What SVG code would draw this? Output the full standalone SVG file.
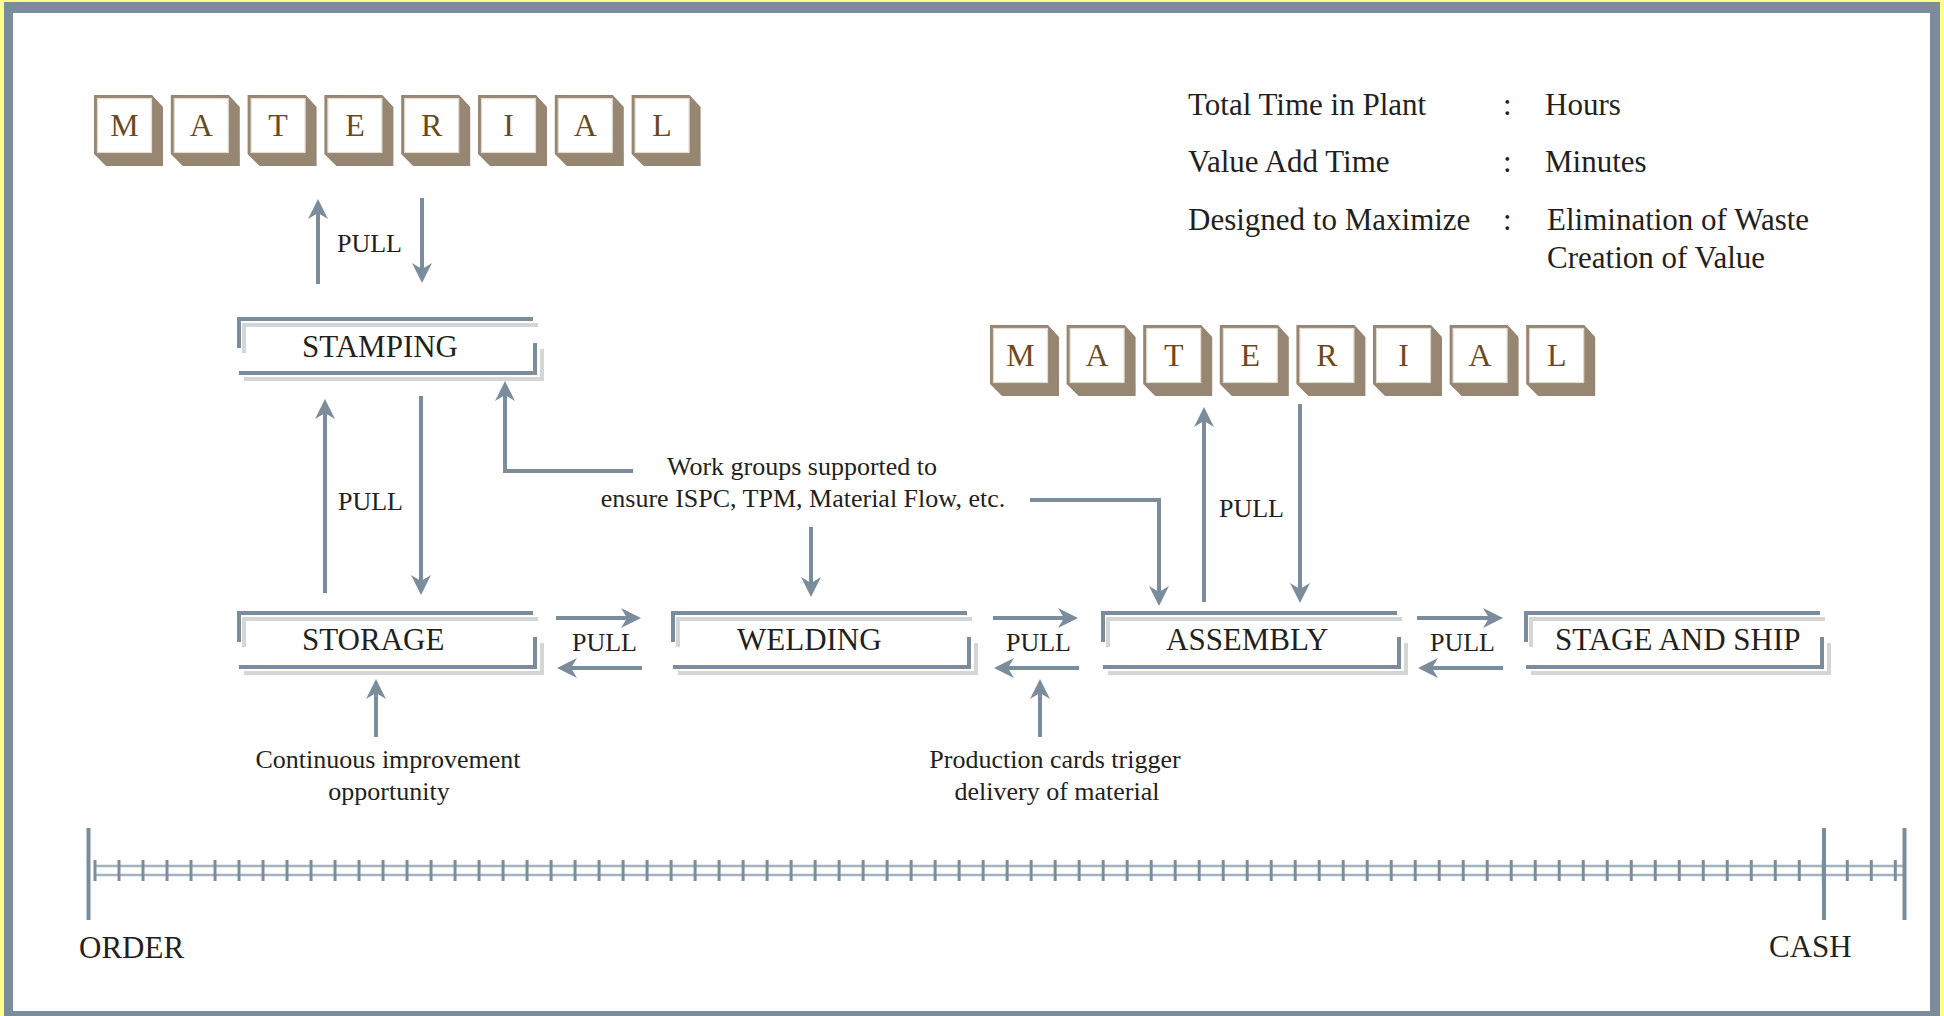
<svg xmlns="http://www.w3.org/2000/svg" width="1944" height="1016" viewBox="0 0 1944 1016">
<style>
.t{font-family:"Liberation Serif","Times New Roman",serif;fill:#231f20}
.big{font-size:31px}
.sm{font-size:26px}
.let{font-family:"Liberation Serif","Times New Roman",serif;font-size:32px;fill:#6b4a1f;text-anchor:middle}
.blk{fill:#968672}
.face{fill:#fff;stroke:#e2dbd1;stroke-width:1.2}
.dk{fill:none;stroke:#7b8d9c;stroke-width:4}
.lt{fill:none;stroke:#d4d5d7;stroke-width:4}
.c{fill:none;stroke:#7b8d9c;stroke-width:4}
.ah{marker-end:url(#arr)}
</style>
<defs>
<marker id="arr" markerUnits="userSpaceOnUse" markerWidth="30" markerHeight="30" refX="8" refY="0" orient="auto" overflow="visible">
<path d="M20,0 L0,-10 L6,0 L0,10 Z" fill="#7b8d9c"/>
</marker>
<g id="block">
<polygon class="blk" points="0,0 58,0 69,12 69,71 12,71 0,59"/>
<rect class="face" x="3.5" y="3.5" width="54" height="54"/>
</g>
<g id="box">
<path class="lt" d="M5,34 V6 H299 M5,60 H303 V30"/>
<path class="dk" d="M0,29 V0 H294 M0,54 H296 V24"/>
</g>
</defs>

<rect width="1944" height="1016" fill="#ffff8a"/>
<rect x="4" y="2" width="1936" height="1014" fill="#7b8d9c"/>
<rect x="13" y="13" width="1917" height="998" fill="#fff"/>

<g id="material-top">
<use href="#block" x="94" y="95"/><text class="let" x="124.5" y="136">M</text>
<use href="#block" x="170.8" y="95"/><text class="let" x="201.3" y="136">A</text>
<use href="#block" x="247.6" y="95"/><text class="let" x="278.1" y="136">T</text>
<use href="#block" x="324.4" y="95"/><text class="let" x="354.9" y="136">E</text>
<use href="#block" x="401.2" y="95"/><text class="let" x="431.7" y="136">R</text>
<use href="#block" x="478" y="95"/><text class="let" x="508.5" y="136">I</text>
<use href="#block" x="554.8" y="95"/><text class="let" x="585.3" y="136">A</text>
<use href="#block" x="631.6" y="95"/><text class="let" x="662.1" y="136">L</text>
</g>

<g id="material-right">
<use href="#block" x="990" y="325"/><text class="let" x="1020.5" y="366">M</text>
<use href="#block" x="1066.6" y="325"/><text class="let" x="1097.1" y="366">A</text>
<use href="#block" x="1143.2" y="325"/><text class="let" x="1173.7" y="366">T</text>
<use href="#block" x="1219.8" y="325"/><text class="let" x="1250.3" y="366">E</text>
<use href="#block" x="1296.4" y="325"/><text class="let" x="1326.9" y="366">R</text>
<use href="#block" x="1373" y="325"/><text class="let" x="1403.5" y="366">I</text>
<use href="#block" x="1449.6" y="325"/><text class="let" x="1480.1" y="366">A</text>
<use href="#block" x="1526.2" y="325"/><text class="let" x="1556.7" y="366">L</text>
</g>

<g id="stamping"><use href="#box" x="239" y="319"/><text class="t big" x="302" y="357">STAMPING</text></g>
<g id="storage"><use href="#box" x="239" y="613"/><text class="t big" x="302" y="650">STORAGE</text></g>
<g id="welding"><use href="#box" x="673" y="613"/><text class="t big" x="737" y="650">WELDING</text></g>
<g id="assembly"><use href="#box" x="1103" y="613"/><text class="t big" x="1166" y="650">ASSEMBLY</text></g>
<g id="stage-and-ship"><use href="#box" x="1526" y="613"/><text class="t big" x="1555" y="650">STAGE AND SHIP</text></g>

<g id="info">
<text class="t big" x="1188" y="115">Total Time in Plant</text>
<text class="t big" x="1503" y="115">:</text>
<text class="t big" x="1545" y="115">Hours</text>
<text class="t big" x="1188" y="172">Value Add Time</text>
<text class="t big" x="1503" y="172">:</text>
<text class="t big" x="1545" y="172">Minutes</text>
<text class="t big" x="1188" y="230">Designed to Maximize</text>
<text class="t big" x="1503" y="230">:</text>
<text class="t big" x="1547" y="230">Elimination of Waste</text>
<text class="t big" x="1547" y="268">Creation of Value</text>
</g>

<g id="notes">
<text class="t sm" x="802" y="475" text-anchor="middle">Work groups supported to</text>
<text class="t sm" x="803" y="507" text-anchor="middle">ensure ISPC, TPM, Material Flow, etc.</text>
<text class="t sm" x="388" y="768" text-anchor="middle">Continuous improvement</text>
<text class="t sm" x="389" y="800" text-anchor="middle">opportunity</text>
<text class="t sm" x="1055" y="768" text-anchor="middle">Production cards trigger</text>
<text class="t sm" x="1057" y="800" text-anchor="middle">delivery of material</text>
</g>

<g id="connectors">
<path class="c ah" d="M318,284 V211"/>
<path class="c ah" d="M422,198 V271"/>
<text class="t sm" x="337" y="252">PULL</text>
<path class="c ah" d="M325,593 V411"/>
<path class="c ah" d="M421,396 V583"/>
<text class="t sm" x="338" y="510">PULL</text>
<path class="c ah" d="M1204,602 V419"/>
<path class="c ah" d="M1300,404 V591"/>
<text class="t sm" x="1219" y="517">PULL</text>
<path class="c ah" d="M556,618 H629"/>
<path class="c ah" d="M642,668 H569"/>
<text class="t sm" x="572" y="651">PULL</text>
<path class="c ah" d="M993,618 H1066"/>
<path class="c ah" d="M1079,668 H1006"/>
<text class="t sm" x="1006" y="651">PULL</text>
<path class="c ah" d="M1417,618 H1491"/>
<path class="c ah" d="M1503,668 H1430"/>
<text class="t sm" x="1430" y="651">PULL</text>
<path class="c ah" d="M376,737 V691"/>
<path class="c ah" d="M1040,737 V691"/>
<path class="c ah" d="M811,527 V585"/>
<path class="c ah" d="M633,471 H505 V393"/>
<path class="c ah" d="M1030,500 H1159 V594"/>
</g>

<g id="timeline">
<line x1="95" y1="866" x2="1904" y2="866" stroke="#a3b2bf" stroke-width="2.5"/>
<line x1="95" y1="875" x2="1904" y2="875" stroke="#a3b2bf" stroke-width="2.5"/>
<line x1="93.5" y1="870.5" x2="1897" y2="870.5" stroke="#7b8d9c" stroke-width="21" stroke-dasharray="3 21.004"/>
<line x1="88.5" y1="828" x2="88.5" y2="920" stroke="#7b8d9c" stroke-width="4"/>
<line x1="1824" y1="828" x2="1824" y2="920" stroke="#7b8d9c" stroke-width="4"/>
<line x1="1904.5" y1="828" x2="1904.5" y2="920" stroke="#7b8d9c" stroke-width="4"/>
<text class="t big" x="79" y="958">ORDER</text>
<text class="t big" x="1769" y="957">CASH</text>
</g>
</svg>
